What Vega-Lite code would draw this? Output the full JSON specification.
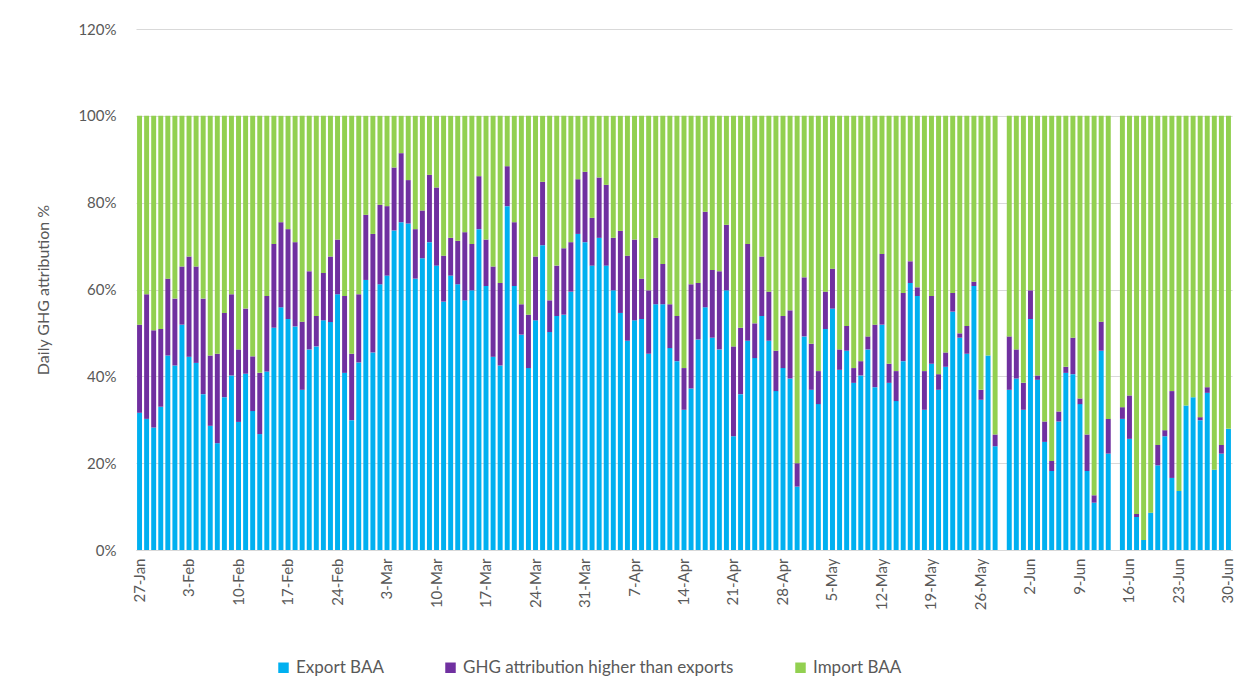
{
  "$schema": "https://vega.github.io/schema/vega-lite/v6.json",
  "width": 1096,
  "height": 521,
  "autosize": {"type": "none"},
  "padding": {"left": 136, "top": 29, "right": 17, "bottom": 148},
  "background": "white",
  "config": {
    "font": "Lato",
    "view": {"stroke": null},
    "axis": {"labelColor": "#595959", "titleColor": "#595959", "labelFontSize": 15, "titleFontSize": 16, "titleFontWeight": "normal", "labelFont": "Lato", "titleFont": "Lato"}
  },
  "data": {
    "values": [
      {"d":"27-Jan","e":31.6,"g":20.3,"i":48.1},
      {"d":"28-Jan","e":30.2,"g":28.7,"i":41.1},
      {"d":"29-Jan","e":28.2,"g":22.4,"i":49.4},
      {"d":"30-Jan","e":33.0,"g":17.9,"i":49.1},
      {"d":"31-Jan","e":44.8,"g":17.7,"i":37.5},
      {"d":"1-Feb","e":42.5,"g":15.4,"i":42.1},
      {"d":"2-Feb","e":51.9,"g":13.4,"i":34.7},
      {"d":"3-Feb","e":44.5,"g":23.1,"i":32.4},
      {"d":"4-Feb","e":43.1,"g":22.2,"i":34.7},
      {"d":"5-Feb","e":35.9,"g":22.0,"i":42.1},
      {"d":"6-Feb","e":28.6,"g":16.2,"i":55.2},
      {"d":"7-Feb","e":24.6,"g":20.6,"i":54.8},
      {"d":"8-Feb","e":35.2,"g":19.4,"i":45.4},
      {"d":"9-Feb","e":40.2,"g":18.7,"i":41.1},
      {"d":"10-Feb","e":29.5,"g":16.7,"i":53.8},
      {"d":"11-Feb","e":40.6,"g":15.0,"i":44.4},
      {"d":"12-Feb","e":32.0,"g":12.6,"i":55.4},
      {"d":"13-Feb","e":26.7,"g":14.1,"i":59.2},
      {"d":"14-Feb","e":41.1,"g":17.4,"i":41.5},
      {"d":"15-Feb","e":51.2,"g":19.3,"i":29.5},
      {"d":"16-Feb","e":55.9,"g":19.6,"i":24.5},
      {"d":"17-Feb","e":53.2,"g":20.7,"i":26.1},
      {"d":"18-Feb","e":51.5,"g":19.4,"i":29.1},
      {"d":"19-Feb","e":36.9,"g":15.7,"i":47.4},
      {"d":"20-Feb","e":46.2,"g":18.0,"i":35.8},
      {"d":"21-Feb","e":46.9,"g":7.0,"i":46.1},
      {"d":"22-Feb","e":52.9,"g":10.9,"i":36.2},
      {"d":"23-Feb","e":52.5,"g":15.1,"i":32.4},
      {"d":"24-Feb","e":58.9,"g":12.6,"i":28.5},
      {"d":"25-Feb","e":40.8,"g":17.7,"i":41.5},
      {"d":"26-Feb","e":29.9,"g":15.3,"i":54.8},
      {"d":"27-Feb","e":43.2,"g":15.7,"i":41.1},
      {"d":"28-Feb","e":62.2,"g":15.0,"i":22.8},
      {"d":"1-Mar","e":45.5,"g":27.3,"i":27.2},
      {"d":"2-Mar","e":61.2,"g":18.3,"i":20.5},
      {"d":"3-Mar","e":63.2,"g":16.0,"i":20.8},
      {"d":"4-Mar","e":73.6,"g":14.5,"i":11.9},
      {"d":"5-Mar","e":75.5,"g":15.9,"i":8.6},
      {"d":"6-Mar","e":75.2,"g":10.0,"i":14.8},
      {"d":"7-Mar","e":62.5,"g":11.4,"i":26.1},
      {"d":"8-Mar","e":67.2,"g":11.0,"i":21.8},
      {"d":"9-Mar","e":70.9,"g":15.5,"i":13.6},
      {"d":"10-Mar","e":65.5,"g":18.0,"i":16.5},
      {"d":"11-Mar","e":57.2,"g":10.6,"i":32.2},
      {"d":"12-Mar","e":63.2,"g":8.7,"i":28.1},
      {"d":"13-Mar","e":61.2,"g":10.0,"i":28.8},
      {"d":"14-Mar","e":57.5,"g":15.7,"i":26.8},
      {"d":"15-Mar","e":59.8,"g":10.7,"i":29.5},
      {"d":"16-Mar","e":73.9,"g":12.2,"i":13.9},
      {"d":"17-Mar","e":60.8,"g":10.7,"i":28.5},
      {"d":"18-Mar","e":44.5,"g":20.8,"i":34.7},
      {"d":"19-Mar","e":42.5,"g":19.0,"i":38.5},
      {"d":"20-Mar","e":79.2,"g":9.2,"i":11.6},
      {"d":"21-Mar","e":60.8,"g":14.7,"i":24.5},
      {"d":"22-Mar","e":49.6,"g":7.0,"i":43.4},
      {"d":"23-Mar","e":41.9,"g":12.3,"i":45.8},
      {"d":"24-Mar","e":52.9,"g":14.7,"i":32.4},
      {"d":"25-Mar","e":70.2,"g":14.6,"i":15.2},
      {"d":"26-Mar","e":50.2,"g":7.3,"i":42.5},
      {"d":"27-Mar","e":53.9,"g":11.6,"i":34.5},
      {"d":"28-Mar","e":54.2,"g":15.3,"i":30.5},
      {"d":"29-Mar","e":59.5,"g":11.4,"i":29.1},
      {"d":"30-Mar","e":72.8,"g":12.6,"i":14.6},
      {"d":"31-Mar","e":70.9,"g":16.2,"i":12.9},
      {"d":"1-Apr","e":65.5,"g":11.0,"i":23.5},
      {"d":"2-Apr","e":71.9,"g":13.9,"i":14.2},
      {"d":"3-Apr","e":65.5,"g":18.6,"i":15.9},
      {"d":"4-Apr","e":59.8,"g":12.1,"i":28.1},
      {"d":"5-Apr","e":54.6,"g":18.9,"i":26.5},
      {"d":"6-Apr","e":48.2,"g":19.6,"i":32.2},
      {"d":"7-Apr","e":52.9,"g":18.6,"i":28.5},
      {"d":"8-Apr","e":53.2,"g":9.3,"i":37.5},
      {"d":"9-Apr","e":45.2,"g":14.6,"i":40.2},
      {"d":"10-Apr","e":56.6,"g":15.3,"i":28.1},
      {"d":"11-Apr","e":56.6,"g":9.3,"i":34.1},
      {"d":"12-Apr","e":46.5,"g":10.1,"i":43.4},
      {"d":"13-Apr","e":43.5,"g":10.4,"i":46.1},
      {"d":"14-Apr","e":32.3,"g":9.6,"i":58.1},
      {"d":"15-Apr","e":37.2,"g":24.0,"i":38.8},
      {"d":"16-Apr","e":48.5,"g":13.0,"i":38.5},
      {"d":"17-Apr","e":55.9,"g":22.0,"i":22.1},
      {"d":"18-Apr","e":48.9,"g":15.6,"i":35.5},
      {"d":"19-Apr","e":46.2,"g":18.0,"i":35.8},
      {"d":"20-Apr","e":59.8,"g":15.1,"i":25.1},
      {"d":"21-Apr","e":26.2,"g":20.7,"i":53.1},
      {"d":"22-Apr","e":35.9,"g":15.3,"i":48.8},
      {"d":"23-Apr","e":48.2,"g":22.3,"i":29.5},
      {"d":"24-Apr","e":44.2,"g":8.0,"i":47.8},
      {"d":"25-Apr","e":53.9,"g":13.7,"i":32.4},
      {"d":"26-Apr","e":48.2,"g":11.3,"i":40.5},
      {"d":"27-Apr","e":36.6,"g":9.3,"i":54.1},
      {"d":"28-Apr","e":41.9,"g":12.0,"i":46.1},
      {"d":"29-Apr","e":39.5,"g":15.7,"i":44.8},
      {"d":"30-Apr","e":14.6,"g":5.4,"i":80.0},
      {"d":"1-May","e":49.2,"g":13.6,"i":37.2},
      {"d":"2-May","e":36.9,"g":10.6,"i":52.5},
      {"d":"3-May","e":33.6,"g":7.6,"i":58.8},
      {"d":"4-May","e":50.9,"g":8.6,"i":40.5},
      {"d":"5-May","e":55.6,"g":9.2,"i":35.2},
      {"d":"6-May","e":41.5,"g":4.7,"i":53.8},
      {"d":"7-May","e":45.9,"g":5.7,"i":48.4},
      {"d":"8-May","e":38.5,"g":3.4,"i":58.1},
      {"d":"9-May","e":40.2,"g":3.3,"i":56.5},
      {"d":"10-May","e":46.2,"g":3.0,"i":50.8},
      {"d":"11-May","e":37.5,"g":14.4,"i":48.1},
      {"d":"12-May","e":51.9,"g":16.3,"i":31.8},
      {"d":"13-May","e":38.5,"g":4.4,"i":57.1},
      {"d":"14-May","e":34.3,"g":6.9,"i":58.8},
      {"d":"15-May","e":43.5,"g":15.7,"i":40.8},
      {"d":"16-May","e":61.5,"g":5.0,"i":33.5},
      {"d":"17-May","e":58.5,"g":2.0,"i":39.5},
      {"d":"18-May","e":32.3,"g":8.9,"i":58.8},
      {"d":"19-May","e":42.9,"g":15.6,"i":41.5},
      {"d":"20-May","e":36.9,"g":3.6,"i":59.5},
      {"d":"21-May","e":42.2,"g":3.3,"i":54.5},
      {"d":"22-May","e":54.9,"g":4.3,"i":40.8},
      {"d":"23-May","e":48.9,"g":1.0,"i":50.1},
      {"d":"24-May","e":45.2,"g":6.4,"i":48.4},
      {"d":"25-May","e":60.8,"g":1.0,"i":38.2},
      {"d":"26-May","e":34.6,"g":2.3,"i":63.1},
      {"d":"27-May","e":44.8,"g":0,"i":55.2},
      {"d":"28-May","e":23.9,"g":2.7,"i":73.4},
      {"d":"29-May","e":0,"g":0,"i":0},
      {"d":"30-May","e":36.9,"g":12.3,"i":50.8},
      {"d":"31-May","e":39.5,"g":6.7,"i":53.8},
      {"d":"1-Jun","e":32.3,"g":6.2,"i":61.5},
      {"d":"2-Jun","e":53.2,"g":6.6,"i":40.2},
      {"d":"3-Jun","e":39.2,"g":1.0,"i":59.8},
      {"d":"4-Jun","e":24.9,"g":4.7,"i":70.4},
      {"d":"5-Jun","e":18.2,"g":2.3,"i":79.5},
      {"d":"6-Jun","e":29.6,"g":2.3,"i":68.1},
      {"d":"7-Jun","e":40.8,"g":1.4,"i":57.8},
      {"d":"8-Jun","e":40.5,"g":8.4,"i":51.1},
      {"d":"9-Jun","e":33.6,"g":1.3,"i":65.1},
      {"d":"10-Jun","e":18.2,"g":8.4,"i":73.4},
      {"d":"11-Jun","e":10.9,"g":1.7,"i":87.4},
      {"d":"12-Jun","e":45.9,"g":6.7,"i":47.4},
      {"d":"13-Jun","e":22.2,"g":8.0,"i":69.8},
      {"d":"14-Jun","e":0,"g":0,"i":0},
      {"d":"15-Jun","e":30.2,"g":2.7,"i":67.1},
      {"d":"16-Jun","e":25.6,"g":10.0,"i":64.4},
      {"d":"17-Jun","e":7.6,"g":0.7,"i":91.7},
      {"d":"18-Jun","e":2.3,"g":0,"i":97.7},
      {"d":"19-Jun","e":8.6,"g":0,"i":91.4},
      {"d":"20-Jun","e":19.5,"g":4.7,"i":75.8},
      {"d":"21-Jun","e":26.2,"g":1.4,"i":72.4},
      {"d":"22-Jun","e":16.6,"g":20.0,"i":63.4},
      {"d":"23-Jun","e":13.6,"g":0,"i":86.4},
      {"d":"24-Jun","e":33.3,"g":0,"i":66.7},
      {"d":"25-Jun","e":35.2,"g":0,"i":64.8},
      {"d":"26-Jun","e":29.9,"g":0.7,"i":69.4},
      {"d":"27-Jun","e":36.2,"g":1.3,"i":62.5},
      {"d":"28-Jun","e":18.5,"g":0,"i":81.5},
      {"d":"29-Jun","e":22.2,"g":2.0,"i":75.8},
      {"d":"30-Jun","e":27.9,"g":0,"i":72.1}
    ]
  },
  "transform": [{"fold": ["e", "g", "i"], "as": ["k", "v"]}],
  "mark": {"type": "bar"},
  "encoding": {
    "x": {
      "field": "d",
      "type": "nominal",
      "sort": null,
      "scale": {"paddingInner": 0.3, "paddingOuter": 0.15},
      "axis": {
        "title": null,
        "values": ["27-Jan","3-Feb","10-Feb","17-Feb","24-Feb","3-Mar","10-Mar","17-Mar","24-Mar","31-Mar","7-Apr","14-Apr","21-Apr","28-Apr","5-May","12-May","19-May","26-May","2-Jun","9-Jun","16-Jun","23-Jun","30-Jun"],
        "labelAngle": -90,
        "labelAlign": "right",
        "labelBaseline": "middle",
        "labelPadding": 8,
        "ticks": false,
        "domainColor": "#D9D9D9",
        "grid": false
      }
    },
    "y": {
      "field": "v",
      "type": "quantitative",
      "stack": "zero",
      "scale": {"domain": [0, 120], "nice": false},
      "axis": {
        "title": "Daily GHG attribution %",
        "values": [0, 20, 40, 60, 80, 100, 120],
        "labelExpr": "datum.value + '%'",
        "labelPadding": 20,
        "titlePadding": 26,
        "ticks": false,
        "domain": false,
        "grid": true,
        "gridColor": "#D9D9D9"
      }
    },
    "color": {
      "field": "k",
      "type": "nominal",
      "scale": {"domain": ["e", "g", "i"], "range": ["#00B0F0", "#7030A0", "#92D050"]},
      "legend": {
        "title": null,
        "orient": "none",
        "direction": "horizontal",
        "legendX": 139,
        "legendY": 630,
        "symbolType": "square",
        "symbolSize": 110,
        "symbolStrokeWidth": 0,
        "labelFontSize": 17,
        "labelColor": "#595959",
        "labelFont": "Lato",
        "labelLimit": 0,
        "columnPadding": 58,
        "labelExpr": "datum.label == 'e' ? 'Export BAA' : datum.label == 'g' ? 'GHG attribution higher than exports' : 'Import BAA'"
      }
    },
    "order": {"field": "k", "sort": "ascending"}
  }
}
